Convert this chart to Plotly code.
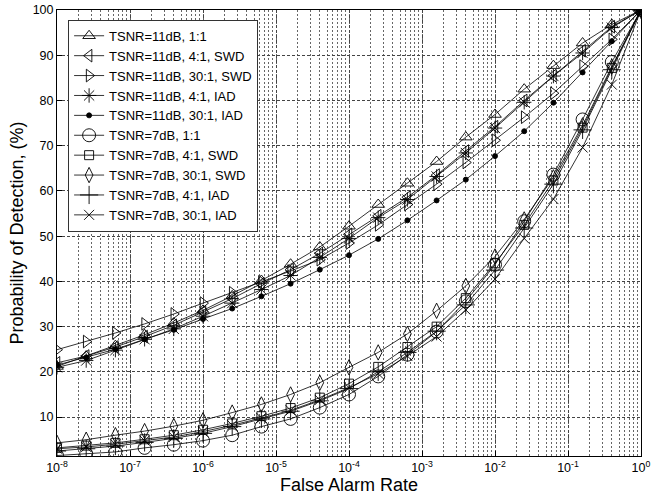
import plotly.graph_objects as go

# x positions: 10^(-8 + 0.4k), k = 0..20 (exponents listed explicitly)
exponents = [-8.0, -7.6, -7.2, -6.8, -6.4, -6.0, -5.6, -5.2, -4.8, -4.4, -4.0,
             -3.6, -3.2, -2.8, -2.4, -2.0, -1.6, -1.2, -0.8, -0.4, 0.0]
far = [10 ** e for e in exponents]

# TSNR = 11 dB
pd_11_1_1 = [21.2, 23.5, 25.8, 28.2, 30.8, 33.6, 36.8, 40.2, 43.8, 47.6, 52.2,
             57.0, 61.7, 66.5, 71.9, 76.9, 82.5, 87.7, 92.7, 96.8, 100]
pd_11_4_swd = [22.0, 23.5, 25.5, 27.8, 30.3, 33.2, 36.2, 39.5, 42.6, 46.2, 50.4,
               54.5, 58.6, 63.5, 68.8, 74.2, 80.0, 85.5, 91.0, 96.3, 100]
pd_11_30_swd = [24.9, 26.7, 28.6, 30.6, 32.8, 35.2, 37.5, 39.9, 42.3, 44.8, 48.5,
                52.5, 57.0, 61.5, 66.3, 71.2, 76.3, 81.6, 87.6, 93.5, 100]
pd_11_4_iad = [21.0, 22.5, 24.8, 27.2, 29.5, 32.3, 35.2, 38.2, 41.3, 45.3, 49.5,
               54.1, 58.1, 63.2, 68.4, 73.9, 79.6, 85.4, 90.5, 96.1, 100]
pd_11_30_iad = [21.5, 23.2, 25.0, 27.2, 29.3, 31.7, 34.0, 36.7, 39.5, 42.6, 45.8,
                49.4, 53.5, 57.9, 62.5, 67.7, 73.2, 79.5, 86.2, 93.1, 100]

# TSNR = 7 dB
pd_7_1_1 = [1.5, 1.9, 2.3, 3.2, 3.9, 4.8, 6.0, 7.9, 9.6, 12.1, 15.0,
            19.0, 23.8, 28.9, 35.6, 43.7, 53.3, 63.6, 75.8, 88.5, 100]
pd_7_4_swd = [3.2, 3.7, 4.3, 5.1, 6.0, 7.2, 8.6, 10.2, 12.0, 14.3, 17.4,
              21.1, 25.5, 30.0, 36.3, 44.0, 52.5, 62.3, 74.0, 87.2, 100]
pd_7_30_swd = [4.3, 5.0, 6.0, 6.9, 8.0, 9.3, 11.0, 12.8, 15.0, 17.6, 21.0,
               24.3, 28.4, 33.5, 39.0, 45.5, 53.7, 63.0, 74.5, 87.5, 100]
pd_7_4_iad = [2.5, 3.0, 3.6, 4.4, 5.3, 6.4, 7.9, 9.6, 11.3, 13.6, 16.3,
              20.0, 24.3, 29.0, 34.8, 42.5, 51.8, 61.5, 73.5, 86.8, 100]
pd_7_30_iad = [3.0, 3.4, 4.0, 4.8, 5.6, 6.8, 8.2, 9.8, 11.5, 13.8, 16.5,
               19.6, 23.5, 27.8, 33.7, 40.5, 49.5, 58.2, 69.6, 83.5, 100]

series = [
    ("TSNR=11dB, 1:1", pd_11_1_1, "triangle-up-open", 11),
    ("TSNR=11dB, 4:1, SWD", pd_11_4_swd, "triangle-left-open", 11),
    ("TSNR=11dB, 30:1, SWD", pd_11_30_swd, "triangle-right-open", 11),
    ("TSNR=11dB, 4:1, IAD", pd_11_4_iad, "asterisk-open", 12),
    ("TSNR=11dB, 30:1, IAD", pd_11_30_iad, "circle", 5),
    ("TSNR=7dB, 1:1", pd_7_1_1, "circle-open", 13),
    ("TSNR=7dB, 4:1, SWD", pd_7_4_swd, "square-open", 9),
    ("TSNR=7dB, 30:1, SWD", pd_7_30_swd, "diamond-tall-open", 11),
    ("TSNR=7dB, 4:1, IAD", pd_7_4_iad, "cross-thin-open", 13),
    ("TSNR=7dB, 30:1, IAD", pd_7_30_iad, "x-thin-open", 10),
]

xtick_vals = [1e-8, 1e-7, 1e-6, 1e-5, 1e-4, 1e-3, 1e-2, 1e-1, 1e0]
xtick_text = ["10<sup>-8</sup>", "10<sup>-7</sup>", "10<sup>-6</sup>", "10<sup>-5</sup>",
              "10<sup>-4</sup>", "10<sup>-3</sup>", "10<sup>-2</sup>", "10<sup>-1</sup>",
              "10<sup>0</sup>"]
ytick_vals = [10, 20, 30, 40, 50, 60, 70, 80, 90, 100]

fig = go.Figure()
for name, vals, sym, size in series:
    fig.add_trace(go.Scatter(
        x=far, y=vals, name=name, mode="lines+markers",
        line=dict(color="black", width=0.8),
        marker=dict(symbol=sym, size=size, color="black",
                    line=dict(color="black", width=0.9)),
    ))

grid_major = dict(showgrid=True, gridcolor="#444", gridwidth=1, griddash="3px,2px")

fig.update_layout(
    width=665, height=502,
    margin=dict(l=57, r=24, t=10, b=46, autoexpand=False),
    paper_bgcolor="white", plot_bgcolor="white",
    font=dict(family="Liberation Sans, Arial, sans-serif", size=12, color="black"),
    showlegend=True,
    legend=dict(x=0.019, y=0.978, xanchor="left", yanchor="top",
                bgcolor="white", bordercolor="#333", borderwidth=1,
                font=dict(size=13), tracegroupgap=0, itemwidth=30),
    xaxis=dict(type="log", range=[-8, 0], tickvals=xtick_vals, ticktext=xtick_text,
               ticks="inside", ticklen=5, tickcolor="black", automargin=False,
               ticklabeloverflow="allow",
               showline=True, linecolor="black", linewidth=1, mirror=True,
               title=dict(text="False Alarm Rate", font=dict(size=18), standoff=2),
               tickfont=dict(size=12.5),
               minor=dict(dtick="D1", showgrid=True, gridcolor="#666",
                          griddash="2px,2px", gridwidth=1, ticks=""),
               zeroline=False, **grid_major),
    yaxis=dict(range=[1.4, 100], tickvals=ytick_vals,
               ticks="inside", ticklen=5, tickcolor="black", automargin=False,
               ticklabeloverflow="allow",
               showline=True, linecolor="black", linewidth=1, mirror=True,
               title=dict(text="Probability of Detection, (%)", font=dict(size=18), standoff=4),
               tickfont=dict(size=12.5), zeroline=False, **grid_major),
)

fig.write_html("out.html",
               config={"displayModeBar": False},
               post_script="document.body.style.margin='0px';document.body.style.padding='0px';")
